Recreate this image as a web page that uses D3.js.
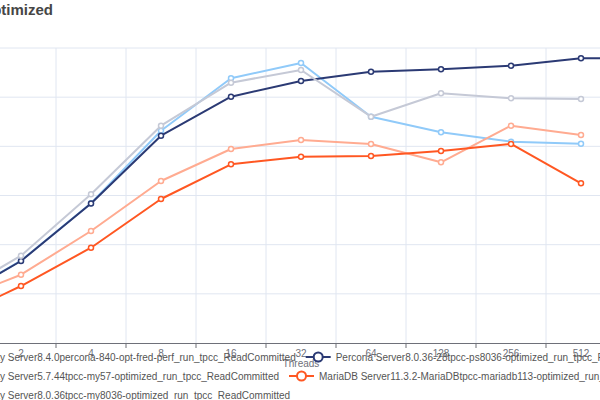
<!DOCTYPE html>
<html><head><meta charset="utf-8">
<script src="https://cdn.jsdelivr.net/npm/d3@7"></script>
<style>body{margin:0;background:#fff}svg{display:block}</style>
</head><body>
<svg id="c" width="600" height="400"></svg>
<script>
const threads = ["1","2","4","8","16","32","64","128","256","512","1024"];
const yTicks = [0,10000,20000,30000,40000,50000,60000];
const titleText = "MySQL vs Percona vs MariaDB tpcc ReadCommitted optimized";
const axisName = "Threads";
const names = [
  "MySQL Community Server8.4.0percona-840-opt-fred-perf_run_tpcc_ReadCommitted",
  "Percona Server8.0.36-28tpcc-ps8036-optimized_run_tpcc_ReadCommitted",
  "MySQL Community Server5.7.44tpcc-my57-optimized_run_tpcc_ReadCommitted",
  "MariaDB Server11.3.2-MariaDBtpcc-mariadb113-optimized_run_tpcc_ReadCommitted",
  "MySQL Community Server8.0.36tpcc-my8036-optimized_run_tpcc_ReadCommitted"
];
const my840   = [8400,16740,28420,43180,53840,56950,46030,42860,40950,40540,null];
const ps8036  = [8400,16680,28380,42170,50100,53290,55180,55670,56400,57910,57970];
const my5744  = [8260,13890,22780,32950,39460,41290,40480,36750,44200,42310,null];
const maria   = [4820,11590,19380,29290,36350,37890,38030,39050,40480,32480,null];
const my8036  = [9420,17760,30250,44200,52950,55530,46030,50790,49770,49630,null];
const seriesData = [my840, ps8036, my5744, maria, my8036];
const colors = ["#90caf9","#2b3a74","#ffab91","#ff5722","#c5c9d6"];
const legendRows = [[0,1],[2,3],[4]];

const svg = d3.select("#c");
const font = "'Liberation Sans', Arial, sans-serif";
const x = d3.scaleBand().domain(threads).range([-84, 686]);
const y = d3.scaleLinear().domain([0, 60000]).range([343, 48]);

// grid
const g = svg.append("g");
g.selectAll(".hg").data(yTicks.slice(1)).join("line")
  .attr("x1", x.range()[0]).attr("x2", x.range()[1])
  .attr("y1", d=>y(d)).attr("y2", d=>y(d))
  .attr("stroke", "#E0E6F1").attr("stroke-width", 1);
g.selectAll(".vg").data(threads.slice(1)).join("line")
  .attr("x1", d=>x(d)).attr("x2", d=>x(d))
  .attr("y1", y(60000)).attr("y2", y(0))
  .attr("stroke", "#E0E6F1").attr("stroke-width", 1);

// x axis
const xa = svg.append("g").attr("transform", `translate(0,${y(0)})`)
  .call(d3.axisBottom(x).tickSize(0).tickPadding(7));
xa.select(".domain").attr("stroke", "#6E7079");
xa.selectAll("text").attr("fill", "#6E7079").attr("font-size", 10).attr("font-family", font);
xa.selectAll(".bt").data(threads.slice(1)).join("line").attr("class","bt")
  .attr("x1", d=>x(d)).attr("x2", d=>x(d)).attr("y1", 0).attr("y2", 5).attr("stroke", "#6E7079");

// y axis (left, out of view)
const ya = svg.append("g").attr("transform", `translate(${x.range()[0]},0)`)
  .call(d3.axisLeft(y).tickValues(yTicks).tickSize(0).tickPadding(8));
ya.select(".domain").remove();
ya.selectAll("text").attr("fill", "#6E7079").attr("font-size", 10).attr("font-family", font);

// axis name
svg.append("text").attr("x", (x.range()[0]+x.range()[1])/2).attr("y", 367)
  .attr("text-anchor", "middle").attr("fill", "#6E7079").attr("font-size", 10)
  .attr("font-family", font).text(axisName);

// lines
const cx = d => x(d) + x.bandwidth()/2;
const line = d3.line().defined(d=>d[1]!=null).x(d=>cx(d[0])).y(d=>y(d[1]));
seriesData.forEach((vals, i) => {
  const pts = threads.map((t, j) => [t, vals[j]]);
  svg.append("path").datum(pts).attr("d", line).attr("fill", "none")
    .attr("stroke", colors[i]).attr("stroke-width", 2).attr("stroke-linejoin", "round");
  svg.append("g").selectAll("circle").data(pts.filter(p=>p[1]!=null)).join("circle")
    .attr("cx", p=>cx(p[0])).attr("cy", p=>y(p[1])).attr("r", 2.5)
    .attr("fill", "#fff").attr("stroke", colors[i]).attr("stroke-width", 1.5);
});

// title
svg.append("text").attr("x", 53).attr("y", 15).attr("text-anchor", "end")
  .attr("font-size", 15).attr("font-weight", "bold").attr("fill", "#464646")
  .attr("font-family", font).text(titleText);

// legend
const lg = svg.append("g").attr("font-family", font).attr("font-size", 10);
const probe = lg.append("text").text("MySQL Communit");
const pre = probe.node().getComputedTextLength();
probe.remove();
const legendLeft = -pre - 30;
const rowY = [357, 376, 395];
legendRows.forEach((row, r) => {
  let cur = legendLeft;
  row.forEach(i => {
    const it = lg.append("g").attr("transform", `translate(${cur},${rowY[r]})`);
    it.append("line").attr("x1", 0).attr("x2", 25).attr("y1", 0).attr("y2", 0)
      .attr("stroke", colors[i]).attr("stroke-width", 2);
    it.append("circle").attr("cx", 12.5).attr("cy", 0).attr("r", 4.5)
      .attr("fill", "#fff").attr("stroke", colors[i]).attr("stroke-width", 2);
    const t = it.append("text").attr("x", 30).attr("y", 3.5).attr("fill", "#555").text(names[i]);
    cur += 30 + t.node().getComputedTextLength() + 10;
  });
});
</script>
</body></html>
